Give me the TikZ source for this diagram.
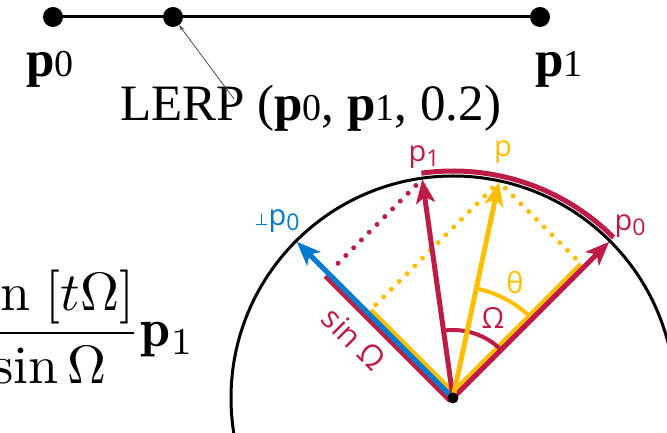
\documentclass[tikz,border=0pt]{standalone}
\usepackage{fontspec}
\usetikzlibrary{arrows.meta,calc}
\newfontfamily\serifT{Liberation Serif}
\newfontfamily\sansL{Open Sans}
\newfontfamily\dejav{DejaVu Sans}
\definecolor{cred}{RGB}{188,28,70}
\definecolor{cyel}{RGB}{255,190,0}
\definecolor{cblu}{RGB}{0,122,204}
\newcommand{\tsub}[1]{{\mdseries\fontsize{38}{38}\selectfont #1}}
\newcommand{\lsub}[1]{\raisebox{-5.5pt}{\fontsize{23}{23}\selectfont #1}}
\tikzset{
  dotnode/.style={circle,fill=black,inner sep=0pt,minimum size=20pt},
  toptext/.style={font=\serifT\fontsize{51}{56}\selectfont,inner sep=0pt},
  lab/.style={font=\sansL\fontsize{29}{31}\selectfont,inner sep=0pt},
  dotline/.style={line width=5pt,line cap=round,dash pattern=on 0pt off 11pt},
  vec/.style={line width=5pt,-{Stealth[length=24pt,width=19pt,inset=6pt]}},
  band/.style={line width=4pt}
}
\begin{document}
\begin{tikzpicture}[x=1pt,y=1pt]
\useasboundingbox (0,0) rectangle (667,433);
\clip (0,0) rectangle (667,433);
% ---- top: linear interpolation
\node[dotnode] (d0) at (53,416) {};
\node[dotnode] (d1) at (173,416) {};
\node[dotnode] (d2) at (540,416) {};
\draw[line width=3pt] (d0.center) -- (d2.center);
\node[toptext,anchor=base west] (tp0) at (26,356) {\bfseries p\tsub{0}};
\node[toptext,anchor=base west] (tp1) at (535,356) {\bfseries p\tsub{1}};
\node[toptext,anchor=base west] (lerp) at (120,312) {LERP ({\bfseries p}\tsub{0}, {\bfseries p}\tsub{1}, 0.2)};
\coordinate (as) at (234,334);
\draw[black!70,line width=0.8pt,-{Stealth[length=6pt,width=4pt]}] (as) -- (d1);
% ---- formula (cut at left edge)
\node[anchor=base east,scale=5.4,inner sep=0pt] (frm) at (196,86.3) {$\displaystyle\frac{\sin\;[t\Omega]}{\sin\Omega}\mathbf{p}_1$};
% ---- circle diagram
\def\R{221}
\coordinate (O) at (453,35);
\coordinate (P0) at ($(O)+(45:\R)$);
\coordinate (P1) at ($(O)+(98:\R)$);
\coordinate (P) at ($(O)+(78:\R)$);
\coordinate (Q) at ($(O)+(135:\R)$);
\coordinate (F1) at ($(O)+(135:{221*sin(53)})$);
\coordinate (Fc) at ($(O)+(45:{221*cos(33)})$);
\coordinate (Fs) at ($(O)+(135:{221*sin(33)})$);
\draw[line width=3pt] (O) circle[radius=222];
\draw[cred,line width=5pt] ($(O)+(45:227)$) arc[start angle=45,end angle=98,radius=227];
% bands
\draw[cred,band] ($(O)+(225:4.5)$) -- ($(F1)+(225:4.5)$);
\draw[cyel,band] ($(O)+(45:4.5)$) -- ($(Fs)+(45:4.5)$);
\draw[cyel,band] ($(O)+(135:4.5)$) -- ($(Fc)+(135:4.5)$);
% dotted projections
\draw[cred,dotline,shorten <=9pt,shorten >=8pt] (P1) -- (F1);
\draw[cyel,dotline,shorten <=9pt,shorten >=6pt] (P) -- (Fc);
\draw[cyel,dotline,shorten <=9pt,shorten >=5pt] (P) -- (Fs);
% angle arcs
\draw[cred,band] ($(O)+(45:68)$) arc[start angle=45,end angle=98,radius=68];
\draw[cyel,band] ($(O)+(45:112)$) arc[start angle=45,end angle=78,radius=112];
% vectors
\draw[cblu,vec] (O) -- (Q);
\draw[cred,vec] (O) -- (P0);
\draw[cred,vec] (O) -- (P1);
\draw[cyel,vec] (O) -- (P);
\fill (O) circle[radius=5.5];
% labels
\node[lab,text=cred] (l1) at (424,276) {p\lsub{1}};
\node[lab,text=cyel] (lp) at (503,281) {p};
\node[lab,text=cred] (l0) at (630,207) {p\lsub{0}};
\node[lab,text=cblu] (lq) at (277,212) {{\dejav\fontsize{16}{16}\selectfont ⊥}p\lsub{0}};
\node[lab,text=cyel] (lt) at (515,151) {θ};
\node[lab,text=cred] (lo) at (493,115) {Ω};
\node[lab,text=cred,rotate=-45,font=\sansL\fontsize{31}{33}\selectfont] (ls) at (354,94) {sin Ω};
\end{tikzpicture}
\end{document}
